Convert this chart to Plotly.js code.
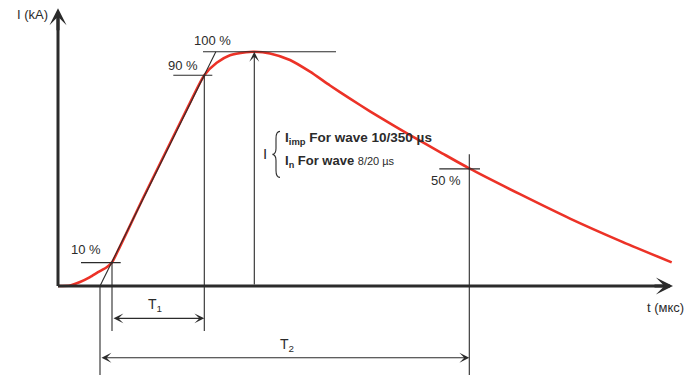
<!DOCTYPE html>
<html>
<head>
<meta charset="utf-8">
<script src="https://cdn.plot.ly/plotly-3.0.1.min.js"></script>
<style>html,body{margin:0;padding:0;background:#fff;}#chart{width:698px;height:376px;}</style>
</head>
<body>
<div id="chart"></div>
<script>
// Impulse current waveform (schematic): time (arbitrary units) vs current (% of peak)
const timeValues = [0, 12, 22, 32, 40, 48.7, 54, 61, 70, 85, 100, 115, 130, 146.3, 158.7, 172, 188, 196.3, 212, 232, 252, 272, 292, 312, 332, 352, 382, 411.3, 462, 512, 562, 613.7];
const currentPct = [0, 0.2, 1.7, 3.8, 5.9, 8.0, 10.1, 16, 24, 37.5, 50.5, 63.5, 76.5, 90, 95.3, 98.5, 99.8, 100, 99.3, 96.5, 91.5, 85.6, 80.0, 74.6, 69.4, 64.4, 57.2, 50.2, 39.2, 28.8, 19.3, 10.1];

// characteristic points of the wave
const levelLabels = ['10 %', '90 %', '100 %', '50 %'];
const levelPct = [10, 90, 100, 50];
const levelTime = [54, 146.3, 196.3, 411.3];
const virtualOrigin = 42;   // where the 10%-90% line crosses the time axis
const axisLabels = ['I (kA)', 't (мкс)'];
const intervalLabels = ['T<sub>1</sub>', 'T<sub>2</sub>'];
const noteLines = ['<b>I<sub>imp</sub> For wave 10/350 µs</b>',
                   '<b>I<sub>n</sub> For wave</b> <span style="font-size:11px">8/20 µs</span>'];

const ink = '#2b2b2b';
const red = '#ec3227';
const font = 'Liberation Sans, Arial, sans-serif';

const [t10, t90, tPk, t50] = levelTime;
const slope = (90 - 10) / (t90 - t10);
const tTop = t10 + (100 - 10) / slope;
const tZero = virtualOrigin;

const xMax = 615, yMax = 118.6;
const yT1 = -13.8, yT2 = -30.6, yLow1 = -19.2, yLow2 = -38;

function seg(x0, y0, x1, y1, w) {
  return {type: 'line', xref: 'x', yref: 'y', x0, y0, x1, y1, line: {color: ink, width: w || 1.1}};
}
const shapes = [
  seg(0, 0, xMax - 3, 0, 3),
  seg(0, 0, 0, yMax - 2, 3),
  seg(t10 - 31, 10, t10 + 8.7, 10),
  seg(t90 - 31, 90, t90 + 8, 90),
  seg(t90 - 1.3, 100, t90 + 131.7, 100),
  seg(t50 - 30, 50, t50 + 10.7, 50),
  seg(tZero, 0, tTop, 100),
  seg(t10, 10, t10, yLow1),
  seg(t90, 90, t90, yLow1),
  seg(t50, 56.3, t50, yLow2),
  seg(tZero, 0, tZero, yLow2),
  // curly brace next to "I"
  {type: 'path', xref: 'x', yref: 'y', xsizemode: 'pixel', ysizemode: 'pixel', xanchor: 218, yanchor: 56.2,
   path: 'M 4,23 C 0.5,23 0,20 0,16 L 0,6 C 0,2.5 -1,0.5 -3.5,0 C -1,-0.5 0,-2.5 0,-6 L 0,-16 C 0,-20 0.5,-23 4,-23',
   line: {color: ink, width: 1.1}}
];

function arrow(x, y, ax, ay, w, size, both) {
  return {x, y, ax, ay, xref: 'x', yref: 'y', axref: 'x', ayref: 'y', text: '', showarrow: true,
          arrowhead: 3, startarrowhead: 3, arrowsize: size, startarrowsize: size, arrowwidth: w,
          arrowcolor: ink, arrowside: both ? 'end+start' : 'end'};
}
function label(x, y, text, size, anchor) {
  return {x, y, xref: 'x', yref: 'y', text, showarrow: false,
    xanchor: anchor || 'center', yanchor: 'middle',
    font: {family: font, size: size || 13, color: ink}};
}

const annotations = [
  arrow(xMax, 0, xMax - 20, 0, 3, 0.95, false),
  arrow(0, yMax, 0, yMax - 10, 3, 0.95, false),
  arrow(tPk, 100, tPk, 0, 1.1, 1.5, false),
  arrow(t90, yT1, t10, yT1, 1.1, 1.5, true),
  arrow(t50, yT2, tZero, yT2, 1.1, 1.5, true),
  label(-26, 115.7, axisLabels[0], 13),
  label(607, -9, axisLabels[1], 13),
  label(154, 105, levelLabels[2], 13),
  label(125, 94.3, levelLabels[1], 13),
  label(28, 15.4, levelLabels[0], 13),
  label(388, 45.2, levelLabels[3], 13),
  label(97, -8.3, intervalLabels[0], 14),
  label(229, -25, intervalLabels[1], 14),
  label(207, 56.5, 'I', 15),
  label(224.5, 62.8, noteLines[0], 13.5, 'left'),
  label(224.5, 53, noteLines[1], 13, 'left')
];

const trace = {
  x: timeValues, y: currentPct, type: 'scatter', mode: 'lines',
  line: {color: red, width: 2.6, shape: 'spline', smoothing: 0.6},
  hoverinfo: 'skip'
};

const layout = {
  width: 698, height: 376,
  margin: {l: 0, r: 0, t: 0, b: 0},
  paper_bgcolor: '#fff', plot_bgcolor: '#fff',
  showlegend: false,
  xaxis: {range: [-58, 640], visible: false, fixedrange: true},
  yaxis: {range: [-38.4, 122.1], visible: false, fixedrange: true},
  shapes, annotations
};
Plotly.newPlot('chart', [trace], layout, {displayModeBar: false, staticPlot: true});
</script>
</body>
</html>
